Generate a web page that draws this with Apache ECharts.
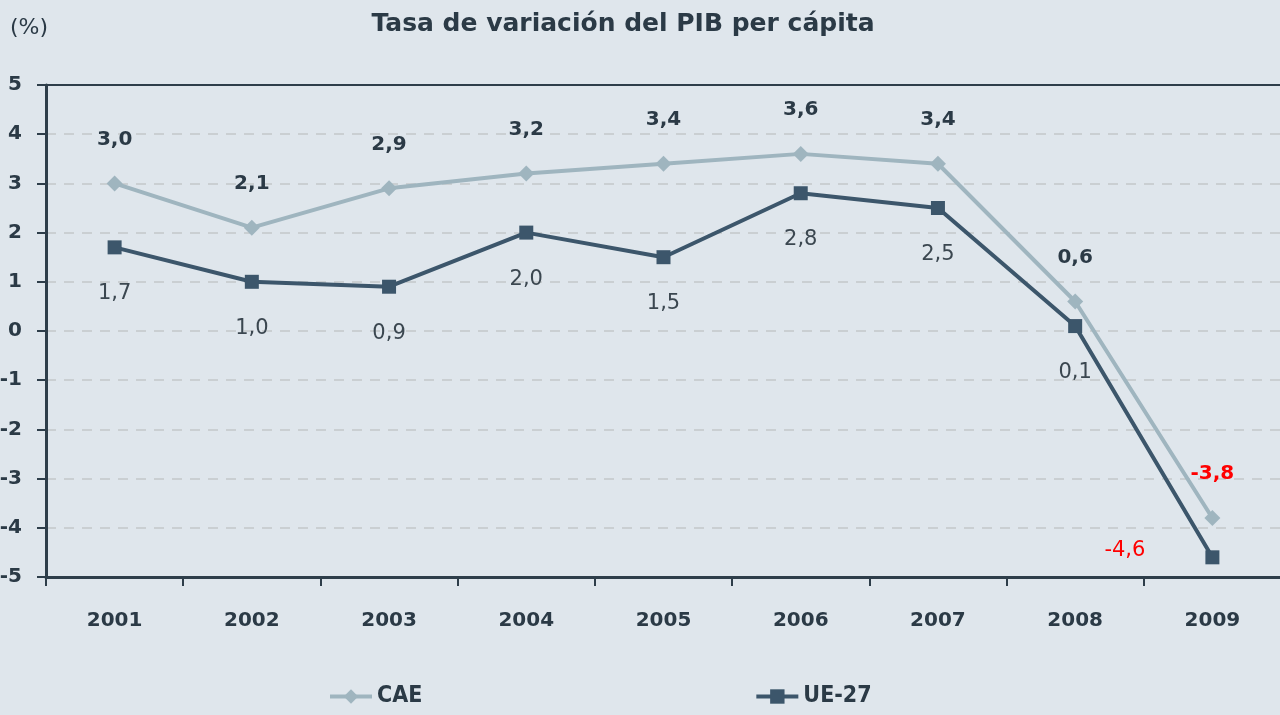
<!DOCTYPE html>
<html>
<head>
<meta charset="utf-8">
<script src="https://cdn.jsdelivr.net/npm/echarts@6/dist/echarts.min.js"></script>
<style>
  html, body { margin: 0; padding: 0; background: #dfe6ec; }
  #chart { width: 1280px; height: 715px; }
</style>
</head>
<body>
<div id="chart"></div>
<script>
var years = ['2001', '2002', '2003', '2004', '2005', '2006', '2007', '2008', '2009'];
var cae = [3.0, 2.1, 2.9, 3.2, 3.4, 3.6, 3.4, 0.6, -3.8];
var ue27 = [1.7, 1.0, 0.9, 2.0, 1.5, 2.8, 2.5, 0.1, -4.6];

var fontFam = '"DejaVu Sans", sans-serif';
var darkTxt = '#2b3a46';

function fmt(v) {
    return v.toFixed(1).replace('.', ',');
}

// el ultimo punto va en rojo
var caeData = cae.map(function (v, i) {
    var d = {value: v};
    if (i === cae.length - 1) {
        d.label = {color: '#ff0000'};
    }
    return d;
});
var ueData = ue27.map(function (v, i) {
    var d = {value: v};
    if (i === ue27.length - 1) {
        d.label = {color: '#ff0000', position: 'left', distance: 60, offset: [0, -7]};
    }
    return d;
});

var myChart = echarts.init(document.getElementById('chart'));

var option = {
    backgroundColor: '#dfe6ec',
    animation: false,
    title: {
        text: 'Tasa de variación del PIB per cápita',
        left: 618,
        textAlign: 'center',
        top: 7,
        textStyle: {fontFamily: fontFam, fontSize: 25, fontWeight: 'bold', color: darkTxt}
    },
    graphic: [{
        type: 'text',
        left: 10,
        top: 17,
        style: {text: '(%)', fontFamily: fontFam, fontSize: 22, fill: darkTxt}
    }],
    legend: {
        bottom: 2,
        left: 323,
        itemGap: 332,
        itemWidth: 42,
        itemHeight: 18,
        textStyle: {fontFamily: '"DejaVu Sans Condensed", "Liberation Sans Narrow", sans-serif', fontSize: 23, fontWeight: 'bold', color: darkTxt},
        data: [
            {name: 'CAE', lineStyle: {width: 4}},
            {name: 'UE-27', lineStyle: {width: 4}}
        ]
    },
    grid: {left: 46, right: -1, top: 85, bottom: 138, outerBoundsMode: 'none'},
    xAxis: [{
        type: 'category',
        data: years,
        position: 'bottom',
        axisLine: {onZero: false, lineStyle: {color: '#2e3e4a', width: 3}},
        axisTick: {show: true, length: 9, lineStyle: {color: '#2e3e4a', width: 2}},
        axisLabel: {margin: 34, fontFamily: fontFam, fontSize: 20, fontWeight: 'bold', color: darkTxt}
    }, {
        type: 'category',
        data: years,
        position: 'top',
        axisLine: {onZero: false, lineStyle: {color: '#2e3e4a', width: 2}},
        axisTick: {show: false},
        axisLabel: {show: false}
    }],
    yAxis: {
        type: 'value',
        min: -5,
        max: 5,
        interval: 1,
        axisLine: {show: true, lineStyle: {color: '#2e3e4a', width: 3}},
        axisTick: {show: true, length: 9, lineStyle: {color: '#2e3e4a', width: 2}},
        axisLabel: {margin: 24, fontFamily: fontFam, fontSize: 20, fontWeight: 'bold', color: darkTxt},
        splitLine: {lineStyle: {color: '#c4c8c9', type: [10, 8], width: 1.5}}
    },
    series: [{
        name: 'CAE',
        type: 'line',
        data: caeData,
        symbol: 'diamond',
        symbolSize: 16,
        lineStyle: {width: 4, color: '#9fb5bf'},
        itemStyle: {color: '#9fb5bf'},
        label: {
            show: true,
            position: 'top',
            distance: 26,
            formatter: function (p) { return fmt(p.value); },
            fontFamily: fontFam, fontSize: 20, fontWeight: 'bold', color: darkTxt
        },
        z: 3
    }, {
        name: 'UE-27',
        type: 'line',
        data: ueData,
        symbol: 'rect',
        symbolSize: 14,
        lineStyle: {width: 4, color: '#3c566b'},
        itemStyle: {color: '#3c566b'},
        label: {
            show: true,
            position: 'bottom',
            distance: 29,
            formatter: function (p) { return fmt(p.value); },
            fontFamily: fontFam, fontSize: 21, color: '#3b4750'
        },
        z: 4
    }]
};

myChart.setOption(option);
</script>
</body>
</html>
